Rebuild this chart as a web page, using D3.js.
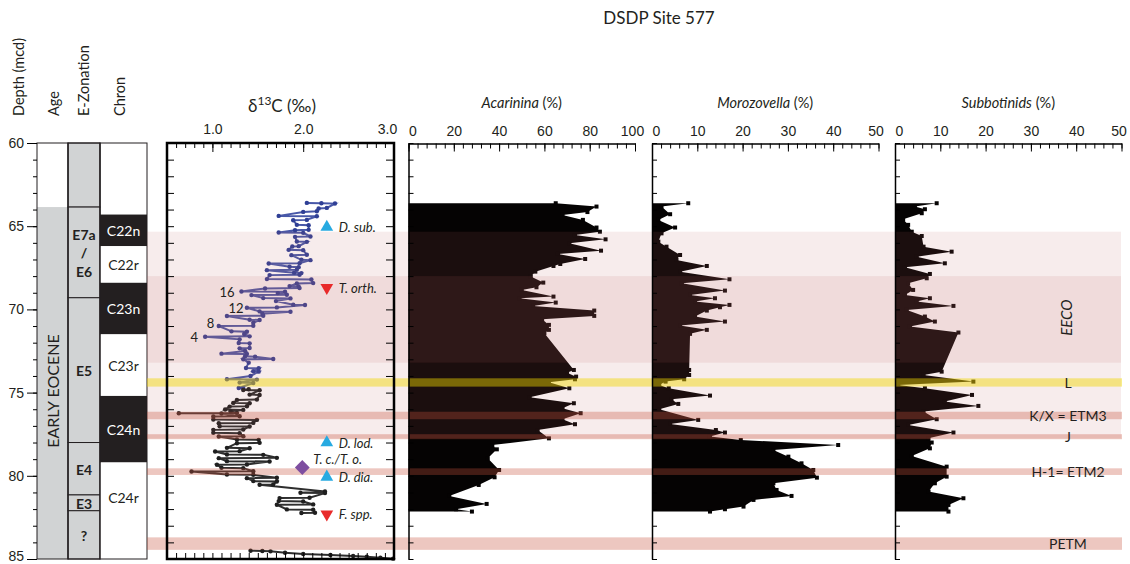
<!DOCTYPE html>
<html>
<head>
<meta charset="utf-8">
<script src="https://cdn.jsdelivr.net/npm/d3@7"></script>
<style>
  body { margin: 0; background: #fff; }
  svg { font-family: Lato, "Open Sans", sans-serif; fill: #231f20; }
</style>
</head>
<body>
<div id="chart"></div>
<script>
// ---- data (depth in mcd) ----
const zoneNames = ["", "E7a|/|E6", "E5", "E4", "E3", "?"];
const zoneTops = [60, 63.85, 69.3, 78.0, 81.15, 82.1];
const zoneBases = [63.85, 69.3, 78.0, 81.15, 82.1, 85];

const chronNames = ["C22n", "C22r", "C23n", "C23r", "C24n", "C24r"];
const chronTops = [64.3, 66.2, 68.4, 71.5, 75.2, 79.2];
const chronBases = [66.2, 68.4, 71.5, 75.2, 79.2, 85];

const ageName = "EARLY EOCENE";
const ageTop = 63.85;

const shadeTops = [65.33, 68.0];      // light interval, EECO
const shadeBases = [77.75, 73.2];
const eventNames = ["L", "K/X = ETM3", "J", "H-1= ETM2", "PETM"];
const eventTops = [74.14, 76.15, 77.5, 79.55, 83.7];
const eventBases = [74.64, 76.6, 77.8, 79.95, 84.45];

const markerNames = ["D. sub.", "T. orth.", "D. lod.", "T. c./T. o.", "D. dia.", "F. spp."];
const markerDepths = [65.05, 68.7, 78.0, 79.5, 80.07, 82.3];
const markerValues = [2.26, 2.26, 2.26, 1.99, 2.26, 2.26];
const markerKinds = ["base", "top", "base", "cross", "base", "top"];

const cycleLabels = ["16", "12", "8", "4"];
const cycleDepths = [68.95, 69.9, 70.8, 71.65];
const cycleValues = [1.16, 1.26, 0.98, 0.8];

// d13C [depth, permil]
const d13cBlue = [
  [63.60, 2.04], [63.62, 2.20], [63.64, 2.35], [63.90, 2.26], [63.94, 2.17],
  [64.10, 2.15], [64.14, 2.00], [64.38, 1.73], [64.40, 2.15], [64.62, 2.04],
  [64.64, 1.89], [64.92, 1.93], [64.94, 2.06], [65.22, 2.06], [65.24, 1.91],
  [65.38, 1.73], [65.40, 2.00], [65.62, 2.08], [65.64, 1.91], [65.92, 1.93],
  [65.94, 2.04], [66.20, 1.95], [66.22, 1.88], [66.42, 1.84], [66.44, 2.00],
  [66.72, 2.04], [66.74, 1.87], [67.02, 1.98], [67.04, 2.08], [67.22, 1.96],
  [67.24, 1.62], [67.44, 1.85], [67.46, 1.95], [67.62, 1.93], [67.64, 1.60],
  [67.80, 1.90], [67.82, 1.98], [67.92, 1.96], [67.94, 1.63], [68.18, 1.60],
  [68.20, 2.09], [68.42, 2.11], [68.44, 1.93], [68.60, 1.85], [68.62, 1.95],
  [68.72, 1.96], [68.74, 1.58], [68.92, 1.32], [68.94, 1.80], [69.02, 1.72],
  [69.12, 1.82], [69.14, 1.43], [69.32, 1.56], [69.34, 1.86], [69.50, 1.70],
  [69.72, 1.89], [69.74, 2.02], [69.88, 1.71], [69.90, 1.38], [70.12, 1.52],
  [70.14, 1.86], [70.26, 1.55], [70.38, 1.56], [70.40, 1.16], [70.62, 1.41],
  [70.64, 1.52], [70.80, 1.45], [70.98, 1.45], [71.00, 1.07], [71.32, 1.21],
  [71.34, 1.38], [71.48, 1.35], [71.62, 1.41], [71.64, 0.92], [71.80, 1.30],
  [72.02, 1.29], [72.04, 1.41], [72.32, 1.41], [72.34, 1.30], [72.50, 1.36],
  [72.66, 1.10], [72.68, 1.38], [72.82, 1.36], [72.84, 1.47], [72.98, 1.67],
  [73.00, 1.34], [73.20, 1.40], [73.52, 1.37], [73.54, 1.51], [73.72, 1.45],
  [73.74, 1.51], [74.00, 1.42], [74.20, 1.16], [74.22, 1.49], [74.40, 1.30],
  [74.42, 1.45], [74.72, 1.29], [74.75, 1.34]
];
const d13cBlack = [
  [74.80, 1.40], [74.84, 1.34], [74.86, 1.52], [75.12, 1.41], [75.14, 1.52],
  [75.42, 1.49], [75.44, 1.27], [75.62, 1.23], [75.64, 1.41], [75.82, 1.38],
  [75.84, 1.19], [76.02, 1.14], [76.04, 1.34], [76.12, 1.20], [76.22, 1.27],
  [76.24, 0.63], [76.26, 1.10], [76.42, 1.30], [76.44, 1.01], [76.62, 1.01],
  [76.64, 1.49], [76.82, 1.45], [76.84, 1.07], [77.02, 1.08], [77.04, 1.41],
  [77.22, 1.34], [77.24, 1.01], [77.42, 1.01], [77.44, 1.30], [77.62, 1.34],
  [77.64, 1.07], [77.82, 1.27], [77.84, 1.51], [78.02, 1.52], [78.04, 1.27],
  [78.32, 1.16], [78.34, 1.41], [78.52, 1.30], [78.54, 1.03], [78.72, 1.16],
  [78.74, 1.56], [78.92, 1.71], [78.94, 1.07], [79.12, 1.16], [79.14, 1.63],
  [79.32, 1.38], [79.34, 1.05], [79.52, 1.10], [79.54, 1.34], [79.72, 1.45],
  [79.74, 0.77], [79.92, 1.16], [79.94, 1.45], [80.12, 1.71], [80.14, 1.38],
  [80.32, 1.45], [80.34, 1.71], [80.52, 1.67], [80.54, 1.52], [80.94, 2.24],
  [81.02, 1.97], [81.04, 2.24], [81.32, 2.07], [81.34, 1.74], [81.52, 1.73],
  [81.54, 2.00], [81.72, 2.11], [81.74, 1.71], [82.02, 1.82], [82.04, 2.11],
  [82.22, 2.13], [82.24, 1.98]
];
const d13cPetm = [
  [84.50, 1.42], [84.52, 1.55], [84.54, 1.64], [84.62, 1.80], [84.70, 2.00],
  [84.76, 2.30], [84.82, 2.55], [84.86, 2.70], [84.92, 2.85], [84.98, 2.99]
];

// planktic foraminifera [depth, %]
const acarinina = [
  [63.62, 65], [63.82, 83], [64.15, 79], [64.32, 68], [64.62, 77], [65.08, 83],
  [65.33, 84.5], [65.53, 73.5], [65.79, 87], [66.03, 71], [66.47, 85], [66.67, 66],
  [66.97, 78], [67.27, 67], [67.39, 64], [67.73, 56], [68.03, 54], [68.39, 59.5],
  [68.67, 56.5], [68.83, 50], [69.23, 64], [69.33, 49], [69.59, 65], [69.79, 55],
  [70.07, 82], [70.39, 82], [70.59, 59], [70.93, 62], [71.23, 62], [71.43, 60],
  [73.64, 73], [73.80, 70], [74.04, 74], [74.20, 73.5], [74.38, 62], [74.74, 71],
  [75.28, 53.5], [75.64, 73], [75.94, 68], [76.24, 76], [76.60, 68], [76.90, 73.5],
  [77.25, 57], [77.75, 62], [78.15, 37], [78.41, 39], [78.95, 35], [79.65, 40],
  [80.09, 38], [80.55, 31], [81.21, 18], [81.69, 34.5], [82.01, 21], [82.15, 28]
];
const morozovella = [
  [63.62, 8.0], [63.82, 2.1], [64.28, 4.0], [64.62, 1.4], [65.08, 5.1], [65.43, 2.1],
  [65.93, 1.4], [66.23, 3.2], [66.73, 6.2], [67.03, 5.4], [67.39, 12.1], [67.73, 6.2],
  [68.19, 17.1], [68.43, 6.6], [68.87, 16.1], [69.13, 8.4], [69.33, 13.9], [69.53, 9.5],
  [69.73, 17.1], [69.87, 15.0], [70.07, 12.1], [70.43, 9.5], [70.73, 16.1], [70.97, 6.2],
  [71.23, 12.1], [71.47, 8.4], [73.64, 8.2], [73.94, 8.2], [74.20, 7.1], [74.34, 3.0],
  [74.54, 1.6], [74.74, 3.7], [75.18, 12.8], [75.40, 4.3], [75.68, 5.8], [76.00, 1.6],
  [76.64, 10.2], [76.88, 4.0], [77.25, 14.1], [77.40, 16.1], [77.64, 12.8], [77.85, 19.6],
  [78.15, 41.1], [78.45, 26.8], [78.85, 30.1], [79.25, 33.0], [79.65, 35.6], [80.11, 36.4],
  [80.45, 26.8], [80.85, 27.5], [81.21, 30.8], [81.45, 22.4], [81.85, 20.2], [82.01, 16.1],
  [82.15, 12.8]
];
const subbotinids = [
  [63.62, 9.2], [63.82, 4.4], [63.98, 6.6], [64.22, 5.9], [64.58, 1.8], [64.92, 2.9],
  [65.33, 3.7], [65.59, 5.9], [66.23, 6.3], [66.53, 12.5], [66.83, 4.8], [67.23, 11.0],
  [67.47, 2.2], [67.87, 7.7], [68.13, 7.0], [68.43, 2.9], [68.83, 4.0], [69.13, 2.2],
  [69.33, 7.7], [69.53, 4.8], [69.79, 12.9], [70.03, 2.6], [70.43, 6.6], [70.73, 8.8],
  [71.03, 3.3], [71.39, 14.0], [73.74, 10.3], [73.94, 6.3], [74.34, 17.3], [74.54, 0.7],
  [74.74, 6.6], [75.14, 17.0], [75.54, 11.0], [75.80, 18.4], [76.14, 6.3], [76.60, 9.2],
  [76.94, 2.9], [77.40, 12.9], [77.75, 7.4], [78.00, 8.1], [78.35, 7.7], [78.81, 3.7],
  [79.45, 11.4], [80.05, 11.4], [80.45, 8.8], [80.95, 7.4], [81.35, 15.1], [81.75, 11.8],
  [82.15, 11.8]
];

// ---- scales ----
const svg = d3.select("#chart").append("svg")
  .attr("width", 1130)
  .attr("height", 564);

const y = d3.scaleLinear().domain([60, 85]).range([143, 559]);
const xIso = d3.scaleLinear().domain([0.5, 3.0]).range([167, 394]);
const xAca = d3.scaleLinear().domain([0, 100]).range([408.5, 635]);
const xMoro = d3.scaleLinear().domain([0, 50]).range([652, 878.5]);
const xSub = d3.scaleLinear().domain([0, 50]).range([895, 1121.5]);

const everyMetre = d3.range(60, 86, 1);

// nudge the end labels of crowded axes inward
function nudgeEnds(g, attr, first, last) {
  const labels = g.selectAll("text");
  const n = labels.size();
  labels.attr(attr, (d, i) => i === 0 ? first : i === n - 1 ? last : 0);
}

// ---- title + column headers ----
svg.append("text")
  .attr("x", 659).attr("y", 24)
  .attr("text-anchor", "middle")
  .attr("font-size", 17)
  .text("DSDP Site 577");

[["Depth (mcd)", 18], ["Age", 53], ["E-Zonation", 83], ["Chron", 119]].forEach(([t, cx]) => {
  svg.append("text")
    .attr("transform", `translate(${cx},116) rotate(-90)`)
    .attr("text-anchor", "start")
    .attr("dominant-baseline", "central")
    .attr("font-size", 14.5)
    .text(t);
});

// ---- stratigraphic columns ----
const colAge = [37, 68], colZone = [68, 100], colChron = [100, 147];

svg.append("rect")
  .attr("x", colAge[0]).attr("y", y(ageTop))
  .attr("width", colAge[1] - colAge[0]).attr("height", y(85) - y(ageTop))
  .attr("fill", "#d1d3d4");
svg.append("text")
  .attr("transform", `translate(${(colAge[0] + colAge[1]) / 2},${(y(ageTop) + y(85)) / 2 + 8}) rotate(-90)`)
  .attr("text-anchor", "middle")
  .attr("dominant-baseline", "central")
  .attr("font-size", 16)
  .text(ageName);

svg.selectAll(".zone")
  .data(zoneNames)
  .enter()
  .append("rect")
  .attr("class", "zone")
  .attr("x", colZone[0])
  .attr("y", (d, i) => y(zoneTops[i]))
  .attr("width", colZone[1] - colZone[0])
  .attr("height", (d, i) => y(zoneBases[i]) - y(zoneTops[i]))
  .attr("fill", "#d1d3d4")
  .attr("stroke", "#231f20")
  .attr("stroke-width", 1);

zoneNames.forEach((name, i) => {
  if (!name) return;
  const lines = name.split("|");
  const cy = (y(zoneTops[i]) + y(zoneBases[i])) / 2;
  const t = svg.append("text")
    .attr("x", (colZone[0] + colZone[1]) / 2)
    .attr("y", cy - (lines.length - 1) * 9.2)
    .attr("text-anchor", "middle")
    .attr("dominant-baseline", "central")
    .attr("font-size", 14)
    .attr("font-weight", 700);
  lines.forEach((l, j) => {
    t.append("tspan")
      .attr("x", (colZone[0] + colZone[1]) / 2)
      .attr("dy", j === 0 ? 0 : 18.4)
      .text(l);
  });
});

svg.selectAll(".chron")
  .data(chronNames)
  .enter()
  .append("rect")
  .attr("class", "chron")
  .attr("x", colChron[0])
  .attr("y", (d, i) => y(chronTops[i]))
  .attr("width", colChron[1] - colChron[0])
  .attr("height", (d, i) => y(chronBases[i]) - y(chronTops[i]))
  .attr("fill", d => d.endsWith("n") ? "#231f20" : "#fff");

svg.selectAll(".chron-label")
  .data(chronNames)
  .enter()
  .append("text")
  .attr("class", "chron-label")
  .attr("x", (colChron[0] + colChron[1]) / 2)
  .attr("y", (d, i) => d === "C24r" ? y(chronTops[i]) + 35 : (y(chronTops[i]) + y(chronBases[i])) / 2)
  .attr("text-anchor", "middle")
  .attr("dominant-baseline", "central")
  .attr("font-size", 14)
  .attr("fill", d => d.endsWith("n") ? "#fff" : "#231f20")
  .text(d => d);

// column outlines
[colAge, colZone, colChron].forEach(c => {
  svg.append("rect")
    .attr("x", c[0]).attr("y", y(60))
    .attr("width", c[1] - c[0]).attr("height", y(85) - y(60))
    .attr("fill", "none")
    .attr("stroke", "#231f20")
    .attr("stroke-width", 1);
});

// depth axis
svg.append("g")
  .attr("transform", `translate(${colAge[0]},0)`)
  .call(d3.axisLeft(y).tickValues(everyMetre).tickSize(4).tickFormat(""))
  .call(g => g.select(".domain").remove());
svg.append("g")
  .attr("transform", `translate(${colAge[0]},0)`)
  .call(d3.axisLeft(y).tickValues([60, 65, 70, 75, 80, 85]).tickSize(10).tickPadding(3))
  .call(g => g.select(".domain").remove())
  .call(g => g.selectAll("text").attr("font-size", 14).attr("font-family", null).attr("fill", "#231f20"))
  .call(g => g.selectAll("text").filter(d => d === 85).attr("dy", "0.1em"));

// ---- d13C panel data ----
const isoLine = d3.line().x(d => xIso(d[1])).y(d => y(d[0]));

function drawIso(data, lineColor, dotColor) {
  svg.append("path")
    .datum(data)
    .attr("d", isoLine)
    .attr("fill", "none")
    .attr("stroke", lineColor)
    .attr("stroke-width", 2);
  svg.append("g")
    .selectAll("circle")
    .data(data)
    .enter()
    .append("circle")
    .attr("cx", d => xIso(d[1]))
    .attr("cy", d => y(d[0]))
    .attr("r", 2.2)
    .attr("fill", dotColor);
}
drawIso(d13cBlue, "#4858a8", "#2f3f95");
drawIso(d13cBlack, "#2e2e2e", "#1f1f1f");
drawIso(d13cPetm, "#2e2e2e", "#1f1f1f");

// ---- foram panels ----
function drawPercent(data, x) {
  const area = d3.area()
    .y(d => y(d[0]))
    .x0(x(0))
    .x1(d => x(d[1]));
  svg.append("path")
    .datum(data)
    .attr("d", area)
    .attr("fill", "#050303");
  svg.append("g")
    .selectAll("rect")
    .data(data)
    .enter()
    .append("rect")
    .attr("x", d => x(d[1]) - 2)
    .attr("y", d => y(d[0]) - 2)
    .attr("width", 4)
    .attr("height", 4)
    .attr("fill", "#050303");
}
drawPercent(acarinina, xAca);
drawPercent(morozovella, xMoro);
drawPercent(subbotinids, xSub);

// ---- shaded intervals (on top, translucent) ----
const bandX0 = 147, bandX1 = 1121;
shadeTops.forEach((t, i) => {
  svg.append("rect")
    .attr("x", bandX0).attr("y", y(t))
    .attr("width", bandX1 - bandX0).attr("height", y(shadeBases[i]) - y(t))
    .attr("fill", "rgb(190,100,95)")
    .attr("fill-opacity", 0.12);
});
eventNames.forEach((n, i) => {
  svg.append("rect")
    .attr("x", bandX0).attr("y", y(eventTops[i]))
    .attr("width", bandX1 + 1 - bandX0).attr("height", y(eventBases[i]) - y(eventTops[i]))
    .attr("fill", n === "L" ? "rgb(240,215,0)" : "rgb(200,80,60)")
    .attr("fill-opacity", n === "L" ? 0.45 : 0.32);
});

// ---- d13C axes and frame ----
const isoMinor = d3.range(5, 31).map(v => v / 10);
svg.append("g")
  .attr("transform", `translate(0,${y(60)})`)
  .call(d3.axisTop(xIso).tickValues(isoMinor).tickSize(-5).tickFormat(""))
  .call(g => g.select(".domain").remove());
svg.append("g")
  .attr("transform", `translate(0,${y(60)})`)
  .call(d3.axisTop(xIso).tickValues([1, 2, 3]).tickSize(-9).tickPadding(9).tickFormat(d3.format(".1f")))
  .call(g => g.select(".domain").remove())
  .call(g => g.selectAll("text").attr("font-size", 14).attr("font-family", null).attr("fill", "#231f20"))
  .call(g => nudgeEnds(g, "dx", 0, -7));
svg.append("g")
  .attr("transform", `translate(0,${y(85)})`)
  .call(d3.axisBottom(xIso).tickValues(isoMinor).tickSize(-6).tickFormat(""))
  .call(g => g.select(".domain").remove());
svg.append("g")
  .attr("transform", `translate(${xIso.range()[0]},0)`)
  .call(d3.axisLeft(y).tickValues(everyMetre).tickSize(-7).tickFormat(""))
  .call(g => g.select(".domain").remove());
svg.append("g")
  .attr("transform", `translate(${xIso.range()[1]},0)`)
  .call(d3.axisRight(y).tickValues(everyMetre).tickSize(-8).tickFormat(""))
  .call(g => g.select(".domain").remove());
svg.append("rect")
  .attr("x", xIso.range()[0]).attr("y", y(60))
  .attr("width", xIso.range()[1] - xIso.range()[0]).attr("height", y(85) - y(60))
  .attr("fill", "none")
  .attr("stroke", "#000")
  .attr("stroke-width", 2.5);

const isoTitle = svg.append("text")
  .attr("x", 282).attr("y", 112)
  .attr("text-anchor", "middle")
  .attr("font-size", 17);
isoTitle.append("tspan").text("δ");
isoTitle.append("tspan").attr("dy", -7).attr("font-size", 12).text("13");
isoTitle.append("tspan").attr("dy", 7).text("C (‰)");

// ---- foram axes ----
const panels = [
  { x: xAca, title: "Acarinina", major: d3.range(0, 101, 20), minor: d3.range(0, 101, 4) },
  { x: xMoro, title: "Morozovella", major: d3.range(0, 51, 10), minor: d3.range(0, 51, 2) },
  { x: xSub, title: "Subbotinids", major: d3.range(0, 51, 10), minor: d3.range(0, 51, 2) }
];
panels.forEach(p => {
  svg.append("g")
    .attr("transform", `translate(0,${y(60) + 0.5})`)
    .call(d3.axisTop(p.x).tickValues(p.minor).tickSize(-5).tickSizeOuter(0).tickFormat(""))
    .call(g => g.select(".domain").attr("stroke-width", 1.5));
  svg.append("g")
    .attr("transform", `translate(0,${y(60) + 0.5})`)
    .call(d3.axisTop(p.x).tickValues(p.major).tickSize(-8).tickPadding(8))
    .call(g => g.select(".domain").remove())
    .call(g => g.selectAll("text").attr("font-size", 14).attr("font-family", null).attr("fill", "#231f20"))
    .call(g => nudgeEnds(g, "dx", 4, -3));
  svg.append("g")
    .attr("transform", `translate(${p.x(0)},0)`)
    .call(d3.axisLeft(y).tickValues(everyMetre).tickSize(-5).tickSizeOuter(0).tickFormat(""))
    .call(g => g.select(".domain").attr("stroke-width", 1.5));
  const mid = (p.x.range()[0] + p.x.range()[1]) / 2;
  const t = svg.append("text")
    .attr("x", mid).attr("y", 108)
    .attr("text-anchor", "middle")
    .attr("font-size", 14.5);
  t.append("tspan").attr("font-style", "italic").text(p.title);
  t.append("tspan").text(" (%)");
});

// ---- biostratigraphic datums ----
const triUp = d3.symbol().type(d3.symbolTriangle).size(70);
markerNames.forEach((name, i) => {
  const mx = xIso(markerValues[i]), my = y(markerDepths[i]);
  const kind = markerKinds[i];
  const sym = svg.append("path")
    .attr("transform", `translate(${mx},${my})` + (kind === "top" ? " rotate(180)" : kind === "cross" ? " rotate(45)" : ""));
  if (kind === "cross") {
    sym.attr("d", d3.symbol().type(d3.symbolSquare).size(110)()).attr("fill", "#7e4ea0");
  } else {
    sym.attr("d", triUp()).attr("fill", kind === "top" ? "#e82a2a" : "#27aae1");
  }
  svg.append("text")
    .attr("x", kind === "cross" ? mx + 11 : mx + 12)
    .attr("y", kind === "cross" ? my - 8 : my)
    .attr("dominant-baseline", "central")
    .attr("font-size", 13)
    .attr("font-style", "italic")
    .text(name);
});

cycleLabels.forEach((c, i) => {
  svg.append("text")
    .attr("x", xIso(cycleValues[i]))
    .attr("y", y(cycleDepths[i]))
    .attr("text-anchor", "middle")
    .attr("dominant-baseline", "central")
    .attr("font-size", 13)
    .text(c);
});

// ---- interval labels ----
svg.append("text")
  .attr("transform", `translate(1066,${y(70.5)}) rotate(-90)`)
  .attr("text-anchor", "middle")
  .attr("dominant-baseline", "central")
  .attr("font-size", 15)
  .attr("font-style", "italic")
  .text("EECO");
eventNames.forEach((n, i) => {
  svg.append("text")
    .attr("x", 1068)
    .attr("y", (y(eventTops[i]) + y(eventBases[i])) / 2)
    .attr("text-anchor", "middle")
    .attr("dominant-baseline", "central")
    .attr("font-size", 14)
    .text(n);
});
</script>
</body>
</html>
